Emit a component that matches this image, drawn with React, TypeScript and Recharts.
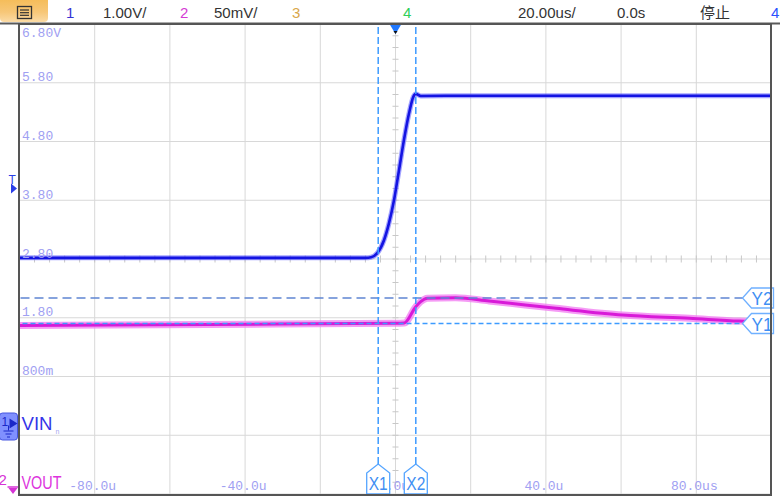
import React from 'react';
import { ComposedChart, Line, XAxis, YAxis, CartesianGrid, ReferenceLine } from 'recharts';

// ---- axes (time in us, ch1 in V, ch2 in mV) ----
const timeTicks = [-100, -80, -60, -40, -20, 0, 20, 40, 60, 80, 100];
const timeTickValues = [-80, -40, 0, 40, 80];
const timeTickLabels = ['-80.0u', '-40.0u', '0.0u', '40.0u', '80.0us'];
const voltTicks = [-1.2, -0.2, 0.8, 1.8, 2.8, 3.8, 4.8, 5.8, 6.8];
const voltTickLabels = ['', '', '800m', '1.80', '2.80', '3.80', '4.80', '5.80', '6.80V'];
const ch2Domain = [0, 400];

// ---- channel 1: VIN (V) ----
const vinTime = [-100, -60, -20, -8, -6.5, -4.85, -3.06, -1.73, -0.4, 0.93, 2.26, 3.6, 4.74, 5.38, 6.7, 20, 60, 100];
const vinVolts = [2.82, 2.82, 2.82, 2.82, 2.83, 2.9, 3.12, 3.41, 3.8, 4.31, 4.83, 5.28, 5.56, 5.61, 5.575, 5.58, 5.58, 5.58];

// ---- channel 2: VOUT (mV) ----
const voutTime = [-100, -50, 0, 2.3, 5.4, 6.7, 8.5, 16, 24.9, 42.7, 60.4, 78.2, 91.5, 100];
const voutMv = [143.4, 144.3, 145.3, 145.5, 159.4, 163.7, 166.6, 167.1, 164.3, 158.0, 152.3, 149.5, 147.2, 146.4];

// ---- cursors / markers ----
const cursorX1 = -4.6;
const cursorX2 = 5.4;
const cursorY1 = 145.1;
const cursorY2 = 166.8;
const triggerLevel = 4.0;
const ch1Ground = 0;
const ch2Ground = 0;

// graticule minor ticks on the centre axes
const minorTimes = Array.from({ length: 49 }, (_, i) => -96 + i * 4);
const minorVolts = Array.from({ length: 39 }, (_, i) => Math.round((-1.0 + i * 0.2) * 100) / 100);

const vinData = vinTime.map((t, i) => ({ t, v: vinVolts[i] }));
const voutData = voutTime.map((t, i) => ({ t, mv: voutMv[i] }));

const MONO = '"Liberation Mono", "DejaVu Sans Mono", monospace';
const SANS = '"Liberation Sans", Arial, sans-serif';
const LABEL_COLOR = '#a0a0f2';

const XTick = (props: any) => {
  const { x, y, payload } = props;
  const idx = timeTickValues.findIndex((v) => Math.abs(v - payload.value) < 1e-6);
  if (idx < 0) return <g />;
  return (
    <text x={x - 2} y={y - 4} textAnchor="middle" fill={LABEL_COLOR} fontSize={13} fontFamily={MONO}>
      {timeTickLabels[idx]}
    </text>
  );
};

const YTick = (props: any) => {
  const { x, y, payload } = props;
  const idx = voltTicks.findIndex((v) => Math.abs(v - payload.value) < 1e-6);
  if (idx < 0 || !voltTickLabels[idx]) return <g />;
  const isTop = idx === voltTicks.length - 1;
  return (
    <text x={x} y={isTop ? y + 12.5 : y - 1.5} textAnchor="start" fill={LABEL_COLOR} fontSize={13} fontFamily={MONO}>
      {voltTickLabels[idx]}
    </text>
  );
};

const XTag = (props: any) => {
  const { viewBox, text } = props;
  const cx = viewBox.x;
  const yb = viewBox.y + viewBox.height;
  const hw = 11.5;
  const pts = `${cx - hw},${yb} ${cx - hw},${yb - 21} ${cx},${yb - 30} ${cx + hw},${yb - 21} ${cx + hw},${yb}`;
  return (
    <g>
      <polygon points={pts} fill="#ffffff" stroke="#55a5ff" strokeWidth={1.3} />
      <text x={cx} y={yb - 4} textAnchor="middle" fontSize={19} fill="#3f8ff3" fontFamily={SANS}
        textLength={19} lengthAdjust="spacingAndGlyphs">{text}</text>
    </g>
  );
};

const YTag = (props: any) => {
  const { viewBox, text } = props;
  const xr = viewBox.x + viewBox.width;
  const cy = viewBox.y;
  const tip = xr - 29;
  const pts = `${xr + 2},${cy - 10} ${tip + 9},${cy - 10} ${tip},${cy} ${tip + 9},${cy + 10} ${xr + 2},${cy + 10}`;
  return (
    <g>
      <polygon points={pts} fill="#ffffff" stroke="#6fb0ff" strokeWidth={1.3} />
      <text x={tip + 9} y={cy + 7} textAnchor="start" fontSize={18} fill="#3f8ff3" fontFamily={SANS}
        textLength={21} lengthAdjust="spacingAndGlyphs">{text}</text>
    </g>
  );
};

const Ch1Marker = (props: any) => {
  const { viewBox } = props;
  const L = viewBox.x;
  const Y = viewBox.y;
  const c = '#1a28c8';
  return (
    <g>
      <rect x={L - 20} y={Y - 10.5} width={18} height={27} rx={3} fill="#8090ff" stroke="#4656e0" strokeWidth={1} />
      <text x={L - 18} y={Y + 2} fontSize={12} fill={c} fontFamily={SANS}>1</text>
      <polygon points={`${L - 10},${Y - 5} ${L - 10},${Y + 5} ${L - 2},${Y}`} fill={c} />
      <line x1={L - 11} y1={Y + 2} x2={L - 11} y2={Y + 7} stroke={c} strokeWidth={1} />
      <line x1={L - 16} y1={Y + 7.5} x2={L - 6} y2={Y + 7.5} stroke={c} strokeWidth={1} />
      <line x1={L - 14} y1={Y + 10.5} x2={L - 8} y2={Y + 10.5} stroke={c} strokeWidth={1} />
      <line x1={L - 12.5} y1={Y + 13.5} x2={L - 9.5} y2={Y + 13.5} stroke={c} strokeWidth={1} />
      <text x={L + 2} y={Y + 6} fontSize={18} fill="#3535e8" fontFamily={SANS}
        textLength={31} lengthAdjust="spacingAndGlyphs">VIN</text>
      <text x={L + 36} y={Y + 10} fontSize={7} fill="#a8a8f0" fontFamily={SANS}>n</text>
    </g>
  );
};

const Ch2Marker = (props: any) => {
  const { viewBox } = props;
  const L = viewBox.x;
  const Y = viewBox.y;
  const c = '#d633d6';
  return (
    <g>
      <text x={L - 21} y={Y - 9} fontSize={15} fill={c} fontFamily={SANS}>2</text>
      <line x1={L - 12} y1={Y - 7} x2={L - 1} y2={Y - 7} stroke={c} strokeWidth={1.5} />
      <polygon points={`${L - 11},${Y - 6} ${L - 2},${Y - 6} ${L - 6.5},${Y}`} fill={c} />
      <text x={L + 2} y={Y - 5} fontSize={18} fill="#dd33dd" fontFamily={SANS}
        textLength={40} lengthAdjust="spacingAndGlyphs">VOUT</text>
    </g>
  );
};

const TriggerLevelMarker = (props: any) => {
  const { viewBox } = props;
  const L = viewBox.x;
  const Y = viewBox.y;
  const c = '#2a3ee8';
  return (
    <g>
      <text x={L - 11} y={Y - 5} fontSize={12} fill={c} fontFamily={SANS}>T</text>
      <polygon points={`${L - 8.5},${Y - 5} ${L - 8.5},${Y + 5} ${L - 2.5},${Y}`} fill={c} />
    </g>
  );
};

const TriggerPosMarker = (props: any) => {
  const { viewBox } = props;
  const cx = viewBox.x;
  const yt = viewBox.y;
  return (
    <g>
      <polygon points={`${cx - 6},${yt} ${cx + 6},${yt} ${cx},${yt + 10}`} fill="#1f78ff" />
      <polygon points={`${cx - 2},${yt + 7} ${cx + 2},${yt + 7} ${cx},${yt + 10}`} fill="#111" />
    </g>
  );
};

export default function App() {
  return (
    <div style={{ position: 'absolute', left: 0, top: 0, width: 780, height: 503, background: '#ffffff', overflow: 'hidden' }}>
      <ComposedChart width={780} height={503} margin={{ top: 24, right: 8.5, bottom: 8, left: 19.5 }}>
        <CartesianGrid stroke="#d8d8d8" strokeWidth={1} />
        <XAxis
          dataKey="t"
          type="number"
          domain={[-100, 100]}
          ticks={timeTicks}
          allowDataOverflow
          height={1}
          tickSize={0}
          tickMargin={0}
          axisLine={false}
          tickLine={false}
          tick={<XTick />}
          interval={0}
          zIndex={-20}
        />
        <YAxis
          type="number"
          domain={[-1.2, 6.8]}
          ticks={voltTicks}
          allowDataOverflow
          width={1}
          mirror
          tickSize={0}
          tickMargin={2.5}
          axisLine={false}
          tickLine={false}
          tick={<YTick />}
          interval={0}
          zIndex={-20}
        />
        <YAxis yAxisId="ch2" type="number" domain={ch2Domain} allowDataOverflow hide orientation="right" />

        {minorTimes.map((t) => (
          <ReferenceLine key={`mt${t}`} segment={[{ x: t, y: 2.74 }, { x: t, y: 2.86 }]} stroke="#c8c8c8" strokeWidth={1} zIndex={-50} ifOverflow="visible" />
        ))}
        {minorVolts.map((v) => (
          <ReferenceLine key={`mv${v}`} segment={[{ x: -0.8, y: v }, { x: 0.8, y: v }]} stroke="#c8c8c8" strokeWidth={1} zIndex={-50} ifOverflow="visible" />
        ))}

        <Line data={voutData} dataKey="mv" yAxisId="ch2" type="monotone" stroke="#f27af2" strokeWidth={7} strokeOpacity={0.75} dot={false} activeDot={false} isAnimationActive={false} />
        <Line data={voutData} dataKey="mv" yAxisId="ch2" type="monotone" stroke="#d81ad8" strokeWidth={3} dot={false} activeDot={false} isAnimationActive={false} />
        <Line data={vinData} dataKey="v" type="monotone" stroke="#5a5aff" strokeWidth={5} strokeOpacity={0.55} dot={false} activeDot={false} isAnimationActive={false} />
        <Line data={vinData} dataKey="v" type="monotone" stroke="#1414e2" strokeWidth={2.6} dot={false} activeDot={false} isAnimationActive={false} />

        <ReferenceLine yAxisId="ch2" y={cursorY2} stroke="#5f85d2" strokeWidth={1.6} strokeDasharray="9 5" zIndex={2500} label={(p: any) => <YTag {...p} text="Y2" />} />
        <ReferenceLine yAxisId="ch2" y={cursorY1} stroke="#3d9bff" strokeWidth={1.4} strokeDasharray="5 3" zIndex={2500} label={(p: any) => <YTag {...p} text="Y1" />} />
        <ReferenceLine x={cursorX1} stroke="#3d9bff" strokeWidth={1.5} strokeDasharray="7 3" zIndex={2500} label={(p: any) => <XTag {...p} text="X1" />} />
        <ReferenceLine x={cursorX2} stroke="#3d9bff" strokeWidth={1.5} strokeDasharray="7 3" zIndex={2500} label={(p: any) => <XTag {...p} text="X2" />} />

        <ReferenceLine y={ch1Ground} stroke="none" ifOverflow="visible" label={(p: any) => <Ch1Marker {...p} />} />
        <ReferenceLine yAxisId="ch2" y={ch2Ground} stroke="none" ifOverflow="visible" label={(p: any) => <Ch2Marker {...p} />} />
        <ReferenceLine y={triggerLevel} stroke="none" ifOverflow="visible" label={(p: any) => <TriggerLevelMarker {...p} />} />
        <ReferenceLine x={0} stroke="none" ifOverflow="visible" label={(p: any) => <TriggerPosMarker {...p} />} />
      </ComposedChart>

      <svg width={780} height={503} style={{ position: 'absolute', left: 0, top: 0, pointerEvents: 'none' }}>
        <defs>
          <linearGradient id="menuGrad" x1="0" y1="0" x2="0" y2="1">
            <stop offset="0" stopColor="#f5bd5a" />
            <stop offset="0.55" stopColor="#f7c778" />
            <stop offset="1" stopColor="#fbdba6" />
          </linearGradient>
        </defs>
        <path d="M0,0 H48 V18 Q48,22 44,22 H4 Q0,22 0,18 Z" fill="url(#menuGrad)" />
        <rect x={17.5} y={6.5} width={14} height={12} fill="none" stroke="#333" strokeWidth={1.3} />
        <line x1={20} y1={10} x2={29} y2={10} stroke="#333" strokeWidth={1.2} />
        <line x1={20} y1={12.7} x2={29} y2={12.7} stroke="#333" strokeWidth={1.2} />
        <line x1={20} y1={15.3} x2={29} y2={15.3} stroke="#333" strokeWidth={1.2} />

        <g fontFamily={SANS} fontSize={15}>
          <text x={66} y={18} fill="#3434d4">1</text>
          <text x={103} y={18} fill="#333">1.00V/</text>
          <text x={180} y={18} fill="#d43cd4">2</text>
          <text x={214} y={18} fill="#333">50mV/</text>
          <text x={292} y={18} fill="#d9a74a">3</text>
          <text x={403} y={18} fill="#2fcf5a">4</text>
          <text x={518} y={18} fill="#333">20.00us/</text>
          <text x={617} y={18} fill="#333">0.0s</text>
          <text x={700} y={18} fill="#333" fontFamily='"Noto Sans CJK SC", sans-serif'>停止</text>
          <text x={771} y={18} fill="#2a50ff">4</text>
        </g>

        <line x1={0} y1={23.5} x2={780} y2={23.5} stroke="#5a5a5a" strokeWidth={2} />
        <rect x={19} y={24} width={752} height={471} fill="none" stroke="#555" strokeWidth={2} />
      </svg>
    </div>
  );
}
